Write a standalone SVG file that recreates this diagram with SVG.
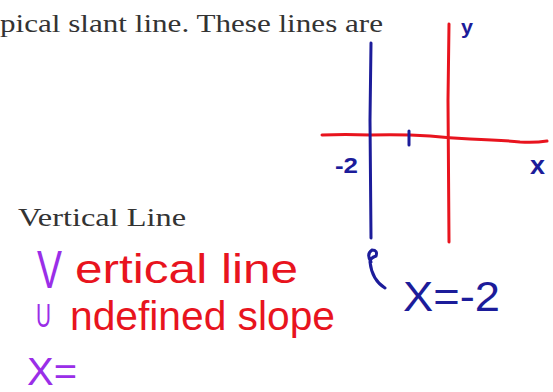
<svg xmlns="http://www.w3.org/2000/svg" width="553" height="392" viewBox="0 0 553 392">
<style>
.print{font-family:"Liberation Serif","Times New Roman",serif;fill:#333333;font-size:26px}
.hand{font-family:"Liberation Sans","DejaVu Sans",sans-serif}
.red{fill:#e8141e}
.blue{fill:#1c1c9a}
.purple{fill:#9a2ee8}
.rl{stroke:#e8141e;stroke-width:3;fill:none;stroke-linecap:round}
.bl{stroke:#1c1c9a;stroke-width:3;fill:none;stroke-linecap:round}
</style>
<rect width="553" height="392" fill="#ffffff"/>
<text class="print" x="0" y="32" textLength="383" lengthAdjust="spacingAndGlyphs">pical slant line.  These lines are</text>
<text class="print" x="18" y="226" font-size="25" textLength="168" lengthAdjust="spacingAndGlyphs">Vertical Line</text>
<g id="axes">
<path class="rl" d="M449 24 L448 100 L449 242"/>
<path class="rl" d="M322 135 Q345 134 370 135 Q400 134 430 136 Q449 138 470 139 Q500 140 520 142 Q535 143 547 141"/>
<path class="bl" d="M371 43 L370 120 L371 238"/>
<path class="bl" d="M409 131 L409 145"/>
</g>
<text class="hand blue" x="335" y="173" font-size="22" font-weight="bold" textLength="23" lengthAdjust="spacingAndGlyphs">-2</text>
<text class="hand blue" x="530" y="174" font-size="26" font-weight="bold" textLength="15" lengthAdjust="spacingAndGlyphs">x</text>
<text class="hand blue" x="461" y="34" font-size="21" font-weight="bold" textLength="12" lengthAdjust="spacingAndGlyphs">y</text>
<path class="bl" d="M371 262 Q366 254 372 250 Q378 250 376 256 Q370 258 370 262 Q372 280 385 288"/>
<text class="hand blue" x="403" y="311" font-size="42" textLength="97" lengthAdjust="spacingAndGlyphs">X=-2</text>
<text class="hand purple" x="37" y="288" font-size="54" textLength="25" lengthAdjust="spacingAndGlyphs">V</text>
<text class="hand red" x="75" y="283" font-size="40" textLength="223" lengthAdjust="spacingAndGlyphs">ertical line</text>
<text class="hand purple" x="36" y="327" font-size="34" textLength="15" lengthAdjust="spacingAndGlyphs">U</text>
<text class="hand red" x="70" y="330" font-size="40" textLength="265" lengthAdjust="spacingAndGlyphs">ndefined slope</text>
<text class="hand purple" x="27" y="385" font-size="38" textLength="50" lengthAdjust="spacingAndGlyphs">X=</text>
</svg>
